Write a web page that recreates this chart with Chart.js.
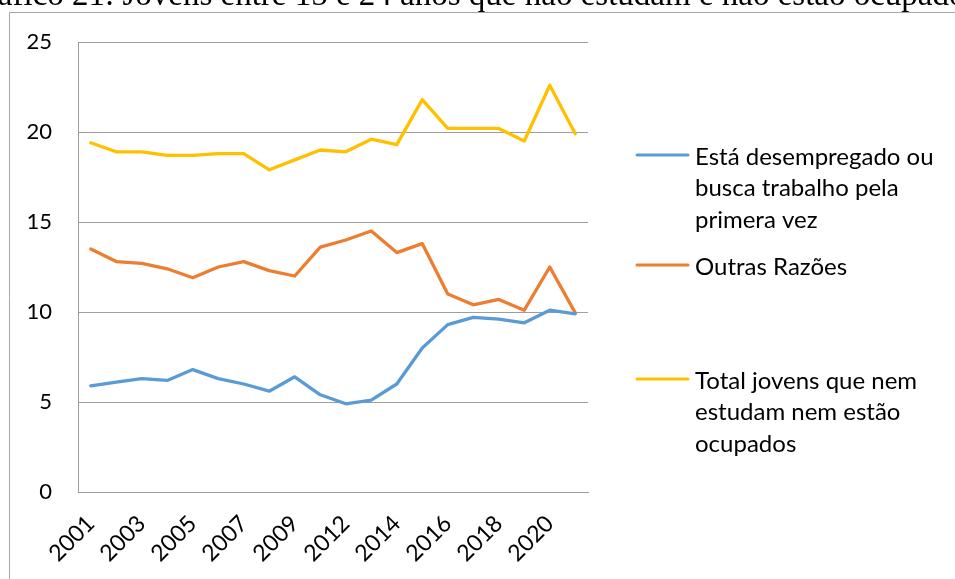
<!DOCTYPE html>
<html>
<head>
<meta charset="utf-8">
<script src="https://cdn.jsdelivr.net/npm/chart.js@4.4.0/dist/chart.umd.min.js"></script>
<style>
  html, body { margin: 0; padding: 0; background: #fff; overflow: hidden; }
  #wrap { position: relative; width: 955px; height: 579px; }
  #title {
    position: absolute; left: -37px; top: -22px; white-space: nowrap;
    font-family: "Liberation Serif", serif; font-size: 33px; line-height: 33px; color: #000;
  }
  canvas { position: absolute; left: 0; top: 0; }
</style>
</head>
<body>
<div id="wrap">
  <canvas id="chartCanvas" width="955" height="579"></canvas>
  <div id="title">Gráfico 21: Jovens entre 15 e 24 anos que não estudam e não estão ocupados</div>
</div>
<script>
// Data
var years = ["2001", "2002", "2003", "2004", "2005", "2006", "2007", "2008", "2009", "2011",
             "2012", "2013", "2014", "2015", "2016", "2017", "2018", "2019", "2020", "2021"];
var desempregado = [5.9, 6.1, 6.3, 6.2, 6.8, 6.3, 6.0, 5.6, 6.4, 5.4,
                    4.9, 5.1, 6.0, 8.0, 9.3, 9.7, 9.6, 9.4, 10.1, 9.9];
var outras = [13.5, 12.8, 12.7, 12.4, 11.9, 12.5, 12.8, 12.3, 12.0, 13.6,
              14.0, 14.5, 13.3, 13.8, 11.0, 10.4, 10.7, 10.1, 12.5, 9.95];
var total = [19.4, 18.9, 18.9, 18.7, 18.7, 18.8, 18.8, 17.9, 18.45, 19.0,
             18.9, 19.6, 19.3, 21.8, 20.2, 20.2, 20.2, 19.5, 22.6, 19.9];
var yTicks = [0, 5, 10, 15, 20, 25];

var legendLines = [
  ["Está desempregado ou", "busca trabalho pela", "primera vez"],
  ["Outras Razões"],
  ["Total jovens que nem", "estudam nem estão", "ocupados"]
];

var fontFamily = "Lato, 'Open Sans', sans-serif";
var gridColor = "#9e9e9e";

// Outer frame like the one round the original chart
var framePlugin = {
  id: "frame",
  beforeDraw: function(chart) {
    var ctx = chart.ctx;
    ctx.save();
    ctx.strokeStyle = "#a6a6a6";
    ctx.lineWidth = 1;
    ctx.beginPath();
    ctx.moveTo(9.5, 600);
    ctx.lineTo(9.5, 12.5);
    ctx.lineTo(960, 12.5);
    ctx.stroke();
    ctx.restore();
  }
};

// Legend drawn by hand so the labels can wrap on several lines
var legendPlugin = {
  id: "sideLegend",
  afterDraw: function(chart) {
    var ctx = chart.ctx;
    var firstLineY = [157, 267, 381];
    var lineGap = 31.5;
    ctx.save();
    ctx.font = "24px " + fontFamily;
    ctx.textBaseline = "middle";
    ctx.fillStyle = "#000";
    chart.data.datasets.forEach(function(ds, i) {
      var y = firstLineY[i];
      ctx.strokeStyle = ds.borderColor;
      ctx.lineWidth = 3;
      ctx.lineCap = "round";
      ctx.beginPath();
      ctx.moveTo(637, y - 2);
      ctx.lineTo(688, y - 2);
      ctx.stroke();
      legendLines[i].forEach(function(txt, j) {
        ctx.fillText(txt, 695, y + j * lineGap);
      });
    });
    ctx.restore();
  }
};

var chart = new Chart(document.getElementById("chartCanvas"), {
  type: "line",
  data: {
    labels: years,
    datasets: [
      { label: "Está desempregado ou busca trabalho pela primera vez", data: desempregado,
        borderColor: "#5B9BD5", backgroundColor: "#5B9BD5" },
      { label: "Outras Razões", data: outras,
        borderColor: "#ED7D31", backgroundColor: "#ED7D31" },
      { label: "Total jovens que nem estudam nem estão ocupados", data: total,
        borderColor: "#FFC000", backgroundColor: "#FFC000" }
    ]
  },
  options: {
    responsive: false,
    animation: false,
    layout: { padding: { left: 0, top: 42, right: 367, bottom: 0 } },
    elements: {
      line: { borderWidth: 3.3, tension: 0, borderCapStyle: "round", borderJoinStyle: "round" },
      point: { radius: 0, hoverRadius: 0 }
    },
    plugins: {
      legend: { display: false },
      tooltip: { enabled: false }
    },
    scales: {
      x: {
        offset: true,
        grid: { display: false, drawTicks: false },
        border: { display: true, color: gridColor, width: 1 },
        ticks: {
          autoSkip: false,
          maxRotation: 45,
          minRotation: 45,
          padding: 18,
          color: "#000",
          font: { family: fontFamily, size: 23 },
          callback: function(val, idx) {
            return idx % 2 === 0 ? this.getLabelForValue(val) : "";
          }
        },
        afterFit: function(scale) { scale.height = 87; }
      },
      y: {
        min: 0,
        max: 25,
        afterBuildTicks: function(scale) {
          scale.ticks = yTicks.map(function(v) { return { value: v }; });
        },
        grid: { color: gridColor, lineWidth: 1, drawTicks: false },
        border: { display: true, color: gridColor, width: 1 },
        ticks: {
          padding: 26,
          color: "#000",
          font: { family: fontFamily, size: 22 }
        },
        afterFit: function(scale) { scale.width = 78; }
      }
    }
  },
  plugins: [framePlugin, legendPlugin]
});
</script>
</body>
</html>
